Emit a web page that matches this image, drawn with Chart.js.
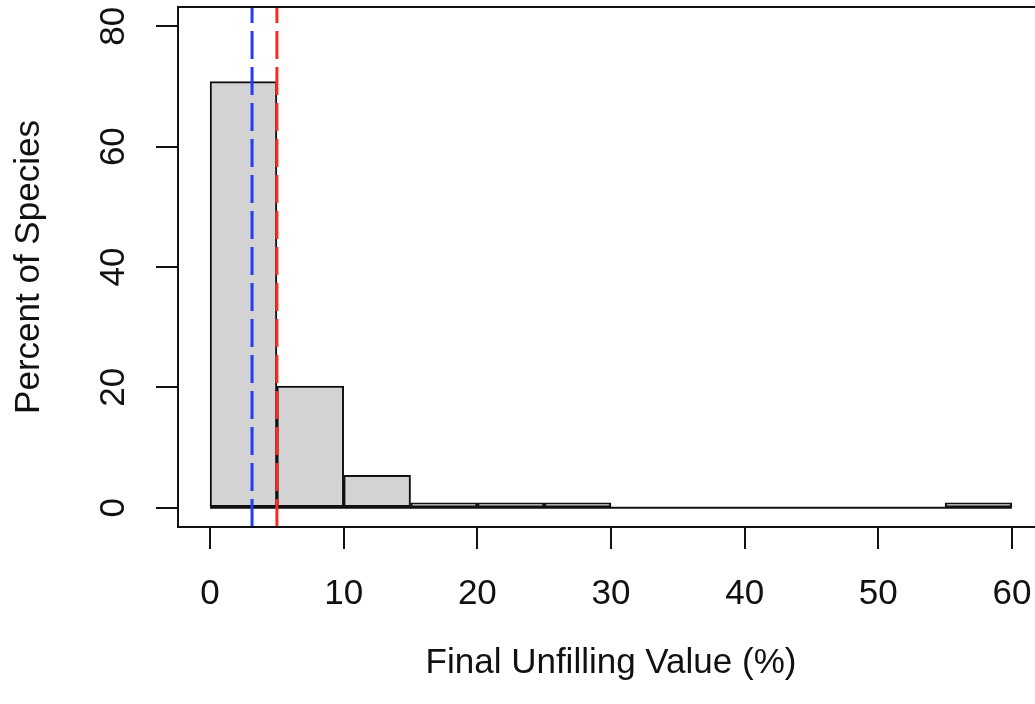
<!DOCTYPE html>
<html>
<head>
<meta charset="utf-8">
<script src="https://cdn.jsdelivr.net/npm/chart.js@4.4.1/dist/chart.umd.min.js"></script>
<style>
  html, body { margin: 0; padding: 0; background: #fff; overflow: hidden; }
  #wrap { width: 1060px; height: 704px; position: relative; }
</style>
</head>
<body>
<div id="wrap"><canvas id="hist"></canvas></div>
<script>
// histogram bins (Final Unfilling Value, %) and percent of species per bin
const binStarts = [0, 5, 10, 15, 20, 25, 30, 35, 40, 45, 50, 55];
const binWidth = 5;
const percentSpecies = [70.8, 20.2, 5.4, 0.8, 0.8, 0.8, 0, 0, 0, 0, 0, 0.8];

// reference lines
const blueLineX = 3.14;
const redLineX = 5.0;

// axes
const xTicks = [0, 10, 20, 30, 40, 50, 60];
const yTicks = [0, 20, 40, 60, 80];
const xRange = [-2.4, 62.4];
const yRange = [-3.2, 83.2];

const FONT = { family: "'Liberation Sans', Arial, Helvetica, sans-serif", size: 35, lineHeight: 1.2 };

const barData = binStarts
  .map((s, i) => ({ x: s + binWidth / 2, y: percentSpecies[i] }))
  .filter(p => p.y > 0);

const lastEdge = binStarts[binStarts.length - 1] + binWidth;

// R style box around the plot region
const boxPlugin = {
  id: 'box',
  afterDraw(chart) {
    const { ctx, chartArea: a } = chart;
    ctx.save();
    ctx.strokeStyle = '#111';
    ctx.lineWidth = 2;
    ctx.strokeRect(a.left, a.top, a.right - a.left, a.bottom - a.top);
    ctx.restore();
  }
};

new Chart(document.getElementById('hist'), {
  data: {
    datasets: [
      {
        type: 'line',
        label: 'median',
        data: [{ x: blueLineX, y: yRange[0] }, { x: blueLineX, y: yRange[1] }],
        borderColor: '#1f3dff',
        borderWidth: 3,
        borderDash: [28, 8],
        pointRadius: 0,
        order: 1
      },
      {
        type: 'line',
        label: 'threshold',
        data: [{ x: redLineX, y: yRange[0] }, { x: redLineX, y: yRange[1] }],
        borderColor: '#ff2a1a',
        borderWidth: 3,
        borderDash: [28, 8],
        pointRadius: 0,
        order: 1
      },
      {
        type: 'bar',
        label: 'species',
        data: barData,
        backgroundColor: '#d3d3d3',
        borderColor: '#111',
        borderWidth: 2,
        borderSkipped: false,
        barPercentage: 1,
        categoryPercentage: 1,
        grouped: false,
        order: 2
      },
      {
        type: 'line',
        label: 'baseline',
        data: [{ x: binStarts[0], y: 0 }, { x: lastEdge, y: 0 }],
        borderColor: '#111',
        borderWidth: 2,
        pointRadius: 0,
        order: 3
      }
    ]
  },
  options: {
    responsive: true,
    maintainAspectRatio: false,
    animation: false,
    layout: { padding: { left: 0, top: 7, right: 16, bottom: 0 } },
    plugins: { legend: { display: false }, tooltip: { enabled: false } },
    scales: {
      x: {
        type: 'linear',
        min: xRange[0],
        max: xRange[1],
        offset: false,
        afterBuildTicks: s => { s.ticks = xTicks.map(v => ({ value: v })); },
        afterFit: s => { s.height = 177; s.paddingLeft = 0; s.paddingRight = 0; },
        grid: { offset: false, drawOnChartArea: false, drawTicks: true, tickLength: 22, color: '#111', lineWidth: 2 },
        border: { display: true, color: '#111', width: 2 },
        ticks: { color: '#111', font: FONT, padding: 24, maxRotation: 0 },
        title: { display: true, text: 'Final Unfilling Value (%)', color: '#111', font: FONT, padding: { top: 0, bottom: 20 } }
      },
      y: {
        type: 'linear',
        min: yRange[0],
        max: yRange[1],
        afterBuildTicks: s => { s.ticks = yTicks.map(v => ({ value: v })); },
        afterFit: s => { s.width = 178; s.paddingTop = 0; s.paddingBottom = 0; },
        grid: { drawOnChartArea: false, drawTicks: true, tickLength: 22, color: '#111', lineWidth: 2 },
        border: { display: true, color: '#111', width: 2 },
        ticks: { color: '#111', font: FONT, padding: 22, minRotation: 90, maxRotation: 90, crossAlign: 'center' },
        title: { display: true, text: 'Percent of Species', color: '#111', font: FONT, padding: { top: 8, bottom: 0 } }
      }
    }
  },
  plugins: [boxPlugin]
});
</script>
</body>
</html>
